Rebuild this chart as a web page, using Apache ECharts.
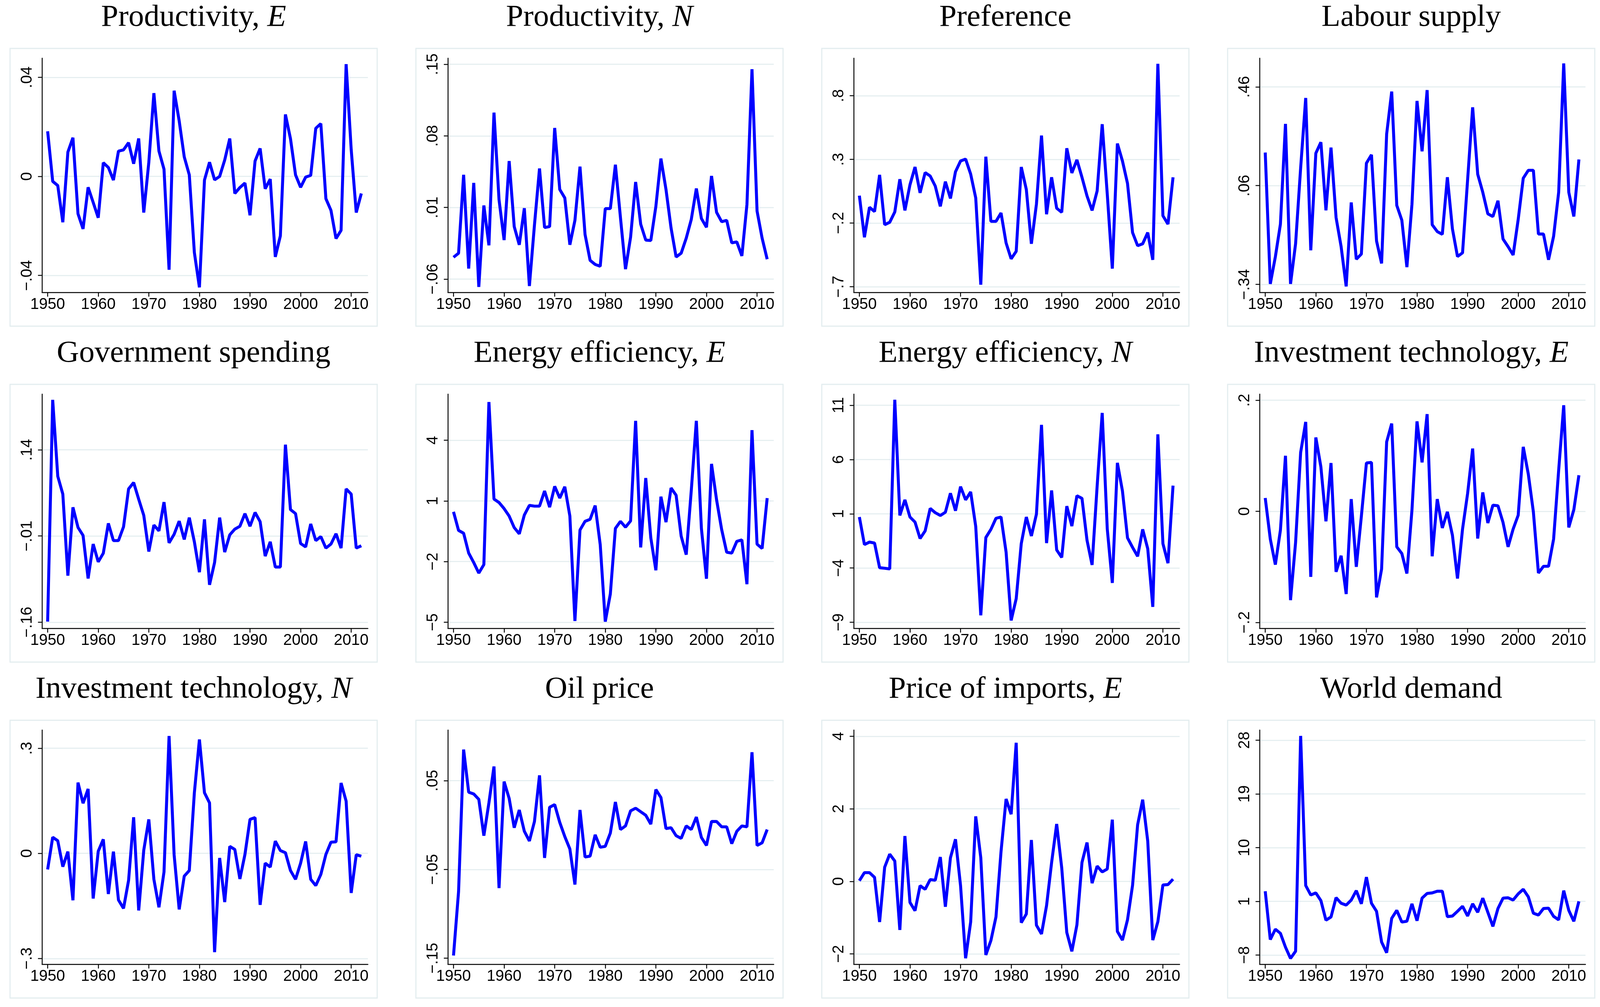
<!DOCTYPE html>
<html><head><meta charset="utf-8">
<script src="https://cdn.jsdelivr.net/npm/echarts@6/dist/echarts.min.js"></script>
<style>html,body{margin:0;padding:0;background:#fff;overflow:hidden}#c{width:100vw;height:100vh}</style>
</head><body><div id="c"></div><script>
const years = [
 1950,1951,1952,1953,1954,1955,1956,1957,1958,1959,
 1960,1961,1962,1963,1964,1965,1966,1967,1968,1969,
 1970,1971,1972,1973,1974,1975,1976,1977,1978,1979,
 1980,1981,1982,1983,1984,1985,1986,1987,1988,1989,
 1990,1991,1992,1993,1994,1995,1996,1997,1998,1999,
 2000,2001,2002,2003,2004,2005,2006,2007,2008,2009,
 2010,2011,2012];
const xTicks = [1950,1960,1970,1980,1990,2000,2010];

const prodE = [
 0.0182,-0.002,-0.0037,-0.0185,0.0098,0.0156,-0.0151,-0.0212,-0.0044,-0.0105,
 -0.0167,0.0055,0.0036,-0.0015,0.0102,0.0107,0.0136,0.0051,0.0153,-0.0146,
 0.0057,0.0336,0.0102,0.0029,-0.0377,0.0346,0.0224,0.0079,0.0006,-0.0307,
 -0.0448,-0.0015,0.0057,-0.0014,0,0.0066,0.0153,-0.0069,-0.0045,-0.0027,
 -0.0157,0.0062,0.0113,-0.005,-0.0011,-0.0325,-0.024,0.025,0.0152,0.0006,
 -0.0044,-0.0003,0.0004,0.0194,0.0213,-0.009,-0.0137,-0.0251,-0.0218,0.0453,
 0.0109,-0.0146,-0.0069];
const prodN = [
 -0.0387,-0.0347,0.0419,-0.0497,0.034,-0.0677,0.012,-0.027,0.1027,0.0175,
 -0.0219,0.0554,-0.0087,-0.0265,0.0093,-0.0668,-0.0072,0.0481,-0.0096,-0.0087,
 0.0877,0.0276,0.0193,-0.0265,-0.0026,0.0499,-0.0164,-0.0417,-0.0457,-0.0475,
 0.0089,0.0089,0.0518,0.0001,-0.0503,-0.0191,0.0349,-0.0063,-0.0219,-0.0223,
 0.0111,0.0578,0.0276,-0.01,-0.0384,-0.0347,-0.02,-0.0017,0.0285,-0.0008,
 -0.0094,0.0408,0.0052,-0.0039,-0.0026,-0.0246,-0.0237,-0.0374,0.0129,0.1452,
 0.0065,-0.02,-0.0406];
const pref = [
 0.015,-0.312,-0.076,-0.110,0.178,-0.213,-0.194,-0.113,0.144,-0.101,
 0.100,0.240,0.037,0.196,0.169,0.090,-0.069,0.125,-0.007,0.203,
 0.287,0.302,0.184,-0.003,-0.684,0.321,-0.187,-0.187,-0.121,-0.356,
 -0.481,-0.422,0.240,0.063,-0.363,-0.051,0.487,-0.131,0.159,-0.084,
 -0.116,0.387,0.193,0.296,0.159,0.012,-0.101,0.052,0.576,0.027,
 -0.558,0.424,0.287,0.111,-0.275,-0.378,-0.363,-0.275,-0.489,1.050,
 -0.143,-0.209,0.159];
const labour = [
 0.194,-0.338,-0.228,-0.096,0.310,-0.338,-0.175,0.132,0.415,-0.202,
 0.191,0.236,-0.040,0.214,-0.069,-0.187,-0.348,-0.008,-0.238,-0.217,
 0.151,0.185,-0.164,-0.255,0.269,0.441,-0.020,-0.080,-0.270,-0.016,
 0.403,0.199,0.447,-0.098,-0.126,-0.137,0.094,-0.115,-0.227,-0.212,
 0.083,0.377,0.106,0.033,-0.054,-0.065,-0.001,-0.156,-0.187,-0.221,
 -0.077,0.090,0.122,0.122,-0.136,-0.136,-0.240,-0.145,0.033,0.555,
 0.033,-0.065,0.166];
const gov = [
 -0.159,0.227,0.094,0.063,-0.079,0.040,0.005,-0.009,-0.084,-0.024,
 -0.055,-0.040,0.012,-0.018,-0.018,0.006,0.072,0.083,0.054,0.026,
 -0.037,0.009,-0.001,0.049,-0.022,-0.007,0.016,-0.016,0.022,-0.020,
 -0.073,0.019,-0.095,-0.056,0.022,-0.038,-0.008,0.002,0.007,0.029,
 0.007,0.031,0.015,-0.045,-0.020,-0.064,-0.064,0.149,0.036,0.029,
 -0.023,-0.029,0.011,-0.018,-0.011,-0.031,-0.024,-0.006,-0.031,0.072,
 0.063,-0.031,-0.027];
const effE = [
 0.46,-0.46,-0.60,-1.58,-2.05,-2.57,-2.15,5.89,1.09,0.92,
 0.62,0.25,-0.32,-0.63,0.30,0.78,0.74,0.74,1.49,0.69,
 1.72,1.14,1.70,0.25,-4.94,-0.44,-0.01,0.09,0.77,-1.16,
 -4.97,-3.60,-0.36,-0.01,-0.30,0.01,4.96,-1.30,2.13,-0.83,
 -2.43,1.21,-0.05,1.64,1.28,-0.74,-1.66,1.52,4.96,-0.36,
 -2.85,2.83,1.05,-0.41,-1.54,-1.58,-1.00,-0.93,-3.12,4.50,
 -1.14,-1.35,1.14];
const effN = [
 0.70,-1.84,-1.61,-1.70,-3.97,-4.02,-4.08,11.50,0.84,2.28,
 0.70,0.23,-1.28,-0.58,1.49,1.10,0.84,1.14,2.89,1.28,
 3.50,2.28,3.01,-0.17,-8.36,-1.19,-0.44,0.58,0.70,-2.53,
 -8.83,-6.82,-1.75,0.70,-1.05,0.97,9.19,-1.70,3.15,-2.33,
 -3.03,1.70,-0.14,2.66,2.42,-1.45,-3.71,3.56,10.29,-0.40,
 -5.37,5.69,3.10,-1.22,-2.10,-2.92,-0.44,-2.22,-7.58,8.32,
 -1.75,-3.55,3.59];
const invE = [
 0.024,-0.050,-0.096,-0.034,0.100,-0.160,-0.056,0.106,0.161,-0.118,
 0.133,0.080,-0.018,0.087,-0.109,-0.080,-0.149,0.022,-0.100,-0.009,
 0.087,0.088,-0.155,-0.104,0.125,0.158,-0.064,-0.076,-0.112,0.002,
 0.162,0.088,0.175,-0.081,0.022,-0.030,-0.001,-0.043,-0.121,-0.032,
 0.032,0.113,-0.049,0.034,-0.021,0.011,0.010,-0.020,-0.064,-0.032,
 -0.007,0.116,0.067,-0.001,-0.111,-0.099,-0.099,-0.050,0.074,0.191,
 -0.029,0.003,0.065];
const invN = [
 -0.046,0.046,0.036,-0.038,0.005,-0.134,0.202,0.143,0.184,-0.129,
 0.006,0.040,-0.116,0.005,-0.133,-0.157,-0.077,0.103,-0.163,0.009,
 0.097,-0.074,-0.154,-0.053,0.335,-0.004,-0.160,-0.065,-0.049,0.173,
 0.325,0.173,0.144,-0.282,-0.013,-0.139,0.020,0.011,-0.073,-0.003,
 0.097,0.102,-0.147,-0.028,-0.039,0.035,0.008,0.002,-0.049,-0.074,
 -0.028,0.034,-0.074,-0.092,-0.060,-0.003,0.032,0.033,0.201,0.149,
 -0.113,-0.004,-0.008];
const oil = [
 -0.147,-0.075,0.085,0.037,0.035,0.029,-0.012,0.025,0.066,-0.071,
 0.049,0.030,-0.003,0.017,-0.007,-0.018,0.004,0.056,-0.037,0.020,
 0.023,0.003,-0.013,-0.027,-0.067,0.017,-0.036,-0.035,-0.011,-0.025,
 -0.024,-0.009,0.026,-0.005,-0.001,0.016,0.019,0.015,0.011,0.001,
 0.040,0.031,-0.004,-0.003,-0.012,-0.015,-0.001,-0.005,0.009,-0.014,
 -0.023,0.004,0.004,-0.002,-0.002,-0.021,-0.007,-0.001,-0.002,0.082,
 -0.023,-0.020,-0.005];
const impE = [
 0.016,0.24,0.24,0.11,-1.12,0.39,0.75,0.56,-1.34,1.25,
 -0.58,-0.81,-0.12,-0.22,0.05,0.03,0.67,-0.70,0.65,1.16,
 -0.12,-2.12,-1.12,1.79,0.65,-2.03,-1.63,-0.98,0.82,2.27,
 1.85,3.82,-1.14,-0.90,1.14,-1.21,-1.45,-0.67,0.52,1.58,
 0.37,-1.41,-1.93,-1.20,0.52,1.07,-0.05,0.42,0.26,0.34,
 1.70,-1.38,-1.62,-1.06,-0.11,1.56,2.25,1.11,-1.62,-1.11,
 -0.10,-0.09,0.06];
const world = [
 2.70,-5.40,-3.67,-4.36,-6.67,-8.56,-7.36,28.73,3.65,2.07,
 2.42,1.13,-2.16,-1.62,1.63,0.68,0.37,1.22,2.80,0.59,
 5.07,0.68,-0.67,-5.81,-7.61,-1.84,-0.51,-2.47,-2.34,0.59,
 -2.25,1.54,2.33,2.42,2.70,2.70,-1.56,-1.46,-0.67,0.18,
 -1.46,0.59,-0.83,1.54,-0.83,-3.20,-0.20,1.54,1.60,1.22,
 2.26,3.02,1.76,-0.99,-1.30,-0.20,-0.14,-1.52,-2.09,2.80,
 -0.51,-2.34,1.00];

// titles: [plain part, italic part]
const titles = [
 ['Productivity, ','E'],['Productivity, ','N'],['Preference',''],['Labour supply',''],
 ['Government spending',''],['Energy efficiency, ','E'],['Energy efficiency, ','N'],['Investment technology, ','E'],
 ['Investment technology, ','N'],['Oil price',''],['Price of imports, ','E'],['World demand','']];
const seriesVals = [prodE,prodN,pref,labour,gov,effE,effN,invE,invN,oil,impE,world];
const yTicks = [
 [-0.04,0,0.04],[-0.06,0.01,0.08,0.15],[-0.7,-0.2,0.3,0.8],[-0.34,0.06,0.46],
 [-0.16,-0.01,0.14],[-5,-2,1,4],[-9,-4,1,6,11],[-0.2,0,0.2],
 [-0.3,0,0.3],[-0.15,-0.05,0.05],[-2,0,2,4],[-8,1,10,19,28]];
const yTickLabels = [
 ['\u2212.04','0','.04'],['\u2212.06','.01','.08','.15'],['\u2212.7','\u2212.2','.3','.8'],['\u2212.34','.06','.46'],
 ['\u2212.16','\u2212.01','.14'],['\u22125','\u22122','1','4'],['\u22129','\u22124','1','6','11'],['\u2212.2','0','.2'],
 ['\u2212.3','0','.3'],['\u2212.15','\u2212.05','.05'],['\u22122','0','2','4'],['\u22128','1','10','19','28']];
const yMin = [-0.0469,-0.0732,-0.746,-0.373,-0.171,-5.31,-9.57,-0.211,-0.317,-0.157,-2.29,-9.57];
const yMax = [0.0477,0.1559,1.094,0.576,0.237,6.28,12.02,0.211,0.352,0.107,4.17,29.71];
const xMin = 1948.9, xMax = 2013.3;

// layout in reference pixels (4297 x 2578), scaled to the actual viewport
const W = window.innerWidth || 4297, H = window.innerHeight || 2578;
const sx = W / 4297, sy = H / 2578, s = Math.min(sx, sy);
const FX0 = 27, FDX = 1090, FW = 986, FY0 = 124, FDY = 860, FH = 711;
const GL = 86, GT = 25, GW = 875, GH = 600;
const LINE_BLUE = '#0000ff', GRID_C = '#e6eff1', FRAME_C = '#e3edef';

const el = document.getElementById('c');
el.style.width = W + 'px'; el.style.height = H + 'px';
const chart = echarts.init(el, null, {renderer:'canvas', width:W, height:H});
const grids = [], xAxes = [], yAxes = [], series = [], titleOpts = [], graphics = [];
seriesVals.forEach((vals, i) => {
  const col = i % 4, row = Math.floor(i / 4);
  const fx = FX0 + col * FDX, fy = FY0 + row * FDY;
  graphics.push({type:'rect', shape:{x:fx*sx, y:fy*sy, width:FW*sx, height:FH*sy},
    style:{fill:'none', stroke:FRAME_C, lineWidth:3*s}, silent:true, z:0});
  grids.push({left:(fx + GL)*sx, top:(fy + GT)*sy, width:GW*sx, height:GH*sy});
  const t = titles[i];
  const fs = 83 * s;
  titleOpts.push({
    text: t[1] ? '{r|' + t[0] + '}{i|' + t[1] + '}' : '{r|' + t[0] + '}',
    left: (fx + FW / 2)*sx, top: (fy - 118)*sy, textAlign: 'center', padding: 0,
    textStyle: { fontWeight:'normal', fontFamily:'Liberation Serif', fontSize:fs, rich: {
      r: {fontFamily:'Liberation Serif', fontSize:fs, fontWeight:'normal', color:'#000', lineHeight:fs},
      i: {fontFamily:'Liberation Serif', fontSize:fs, fontWeight:'normal', color:'#000', fontStyle:'italic', lineHeight:fs}
    }}
  });
  const axLine = {show:true, onZero:false, lineStyle:{color:'#000', width:2.5*s}};
  xAxes.push({
    type:'value', gridIndex:i, min:xMin, max:xMax,
    axisLine: axLine,
    axisTick: {show:true, length:11*s, lineStyle:{color:'#000', width:2.5*s}, customValues: xTicks},
    axisLabel: {customValues: xTicks, fontFamily:'Liberation Sans', fontSize:42*s, color:'#000', margin:11*s,
      formatter: v => String(Math.round(v))},
    splitLine: {show:false}
  });
  const ticks = yTicks[i], labs = yTickLabels[i];
  yAxes.push({
    type:'value', gridIndex:i, min:yMin[i], max:yMax[i],
    axisLine: axLine,
    axisTick: {show:true, length:11*s, lineStyle:{color:'#000', width:2.5*s}, customValues: ticks},
    axisLabel: {customValues: ticks, rotate:90, fontFamily:'Liberation Sans', fontSize:42*s, color:'#000', margin:19*s,
      formatter: v => { const k = ticks.findIndex(tv => Math.abs(tv - v) < 1e-9); return k >= 0 ? labs[k] : ''; }},
    splitLine: {show:true, lineStyle:{color:GRID_C, width:3*s}}
  });
  series.push({
    type:'line', xAxisIndex:i, yAxisIndex:i, showSymbol:false, symbol:'none',
    data: years.map((y, k) => [y, vals[k]]),
    lineStyle:{color:LINE_BLUE, width:8*s}, itemStyle:{color:LINE_BLUE}, z:3
  });
});

chart.setOption({
  backgroundColor:'#ffffff', animation:false,
  title: titleOpts, grid: grids, xAxis: xAxes, yAxis: yAxes, series: series, graphic: graphics
});
</script></body></html>
